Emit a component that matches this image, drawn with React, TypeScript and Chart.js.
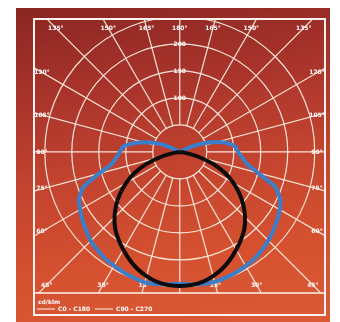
import React, { useEffect, useRef } from 'react';
import { Chart, registerables } from 'chart.js';

Chart.register(...registerables);

// ---- data (cd/klm, angle measured from nadir) ----
const blueAngles = [0, 5, 10, 15, 20, 25, 30, 35, 40, 45, 50, 55, 60, 65, 70, 75, 80, 85, 90, 95, 100, 105, 110, 115, 120];
const blueC0 = [244, 246, 248, 249, 248, 246, 244, 241, 237, 232, 226, 220, 214, 205, 188, 150, 126, 116, 108, 104, 92, 72, 47, 22, 0];
const blueC180 = [244, 246, 248, 250, 248, 246, 243, 241, 237, 233, 226, 220, 213, 206, 190, 155, 128, 118, 111, 106, 90, 70, 48, 24, 0];

const blackAngles = [0, 5, 10, 15, 20, 25, 30, 35, 40, 45, 50, 55, 60, 65, 70, 75, 80, 85];
const blackC90 = [248, 247, 244, 238, 230, 220, 209, 198, 186, 171, 154, 135, 115, 93, 67, 38, 12, 0];
const blackC270 = [248, 247, 244, 238, 230, 220, 209, 198, 186, 171, 154, 135, 115, 93, 67, 38, 12, 0];

const ringValues = [50, 100, 150, 200, 250];
const ringTickLabels = ['', '100', '150', '200', ''];
const spokeAngles = [0, 15, 30, 45, 60, 75, 90, 105, 120, 135, 150, 165, 180, 195, 210, 225, 240, 255, 270, 285, 300, 315, 330, 345];
const seriesLabels = ['C0 - C180', 'C90 - C270'];
const unitLabel = 'cd/klm';

function toXY(angles: number[], right: number[], left: number[]) {
  const pts: { x: number; y: number }[] = [];
  for (let i = angles.length - 1; i >= 0; i--) {
    const a = (angles[i] * Math.PI) / 180;
    pts.push({ x: -left[i] * Math.sin(a), y: -left[i] * Math.cos(a) });
  }
  for (let i = 1; i < angles.length; i++) {
    const a = (angles[i] * Math.PI) / 180;
    pts.push({ x: right[i] * Math.sin(a), y: -right[i] * Math.cos(a) });
  }
  return pts;
}

const gridColor = 'rgba(250,238,224,0.95)';
const textColor = '#ffffff';
const fontStr = 'bold 6px "DejaVu Sans", sans-serif';

const polarGrid = {
  id: 'polarGrid',
  beforeDatasetsDraw(chart: any) {
    const { ctx, chartArea: ca, scales } = chart;
    const xs = scales.x;
    const ys = scales.y;
    const cx = xs.getPixelForValue(0);
    const cy = ys.getPixelForValue(0);
    const k = xs.getPixelForValue(1) - cx;
    ctx.save();
    ctx.beginPath();
    ctx.rect(ca.left, ca.top, ca.right - ca.left, ca.bottom - ca.top);
    ctx.clip();
    ctx.strokeStyle = gridColor;
    ctx.lineWidth = 1.2;
    ringValues.forEach((v) => {
      ctx.beginPath();
      ctx.arc(cx, cy, v * k, 0, Math.PI * 2);
      ctx.stroke();
    });
    const r0 = ringValues[0] * k;
    const r1 = 1000 * k;
    spokeAngles.forEach((a) => {
      const t = (a * Math.PI) / 180;
      const dx = Math.sin(t);
      const dy = Math.cos(t);
      ctx.beginPath();
      ctx.moveTo(cx + dx * r0, cy + dy * r0);
      ctx.lineTo(cx + dx * r1, cy + dy * r1);
      ctx.stroke();
    });
    ctx.restore();

    // angle labels along the frame
    ctx.save();
    ctx.font = fontStr;
    ctx.fillStyle = textColor;
    ctx.textAlign = 'center';
    ctx.textBaseline = 'middle';
    const L = ca.left + 8, R = ca.right - 8, T = ca.top + 9, B = ca.bottom - 8;
    spokeAngles.forEach((a) => {
      if (a === 0) return;
      const t = (a * Math.PI) / 180;
      const dx = Math.sin(t);
      const dy = Math.cos(t);
      let s = Infinity;
      if (dx > 1e-6) s = Math.min(s, (R - cx) / dx);
      if (dx < -1e-6) s = Math.min(s, (L - cx) / dx);
      if (dy > 1e-6) s = Math.min(s, (B - cy) / dy);
      if (dy < -1e-6) s = Math.min(s, (T - cy) / dy);
      const lab = (a <= 180 ? a : 360 - a) + '°';
      ctx.fillText(lab, cx + dx * s, cy + dy * s);
    });
    ringValues.forEach((v, i) => {
      if (!ringTickLabels[i]) return;
      ctx.fillText(ringTickLabels[i], cx, cy - v * k);
    });
    ctx.restore();
  },
  afterDraw(chart: any) {
    const { ctx, chartArea: ca } = chart;
    ctx.save();
    ctx.strokeStyle = '#fbf4ee';
    ctx.lineWidth = 2;
    const bottom = ca.bottom + 22;
    ctx.strokeRect(ca.left, ca.top, ca.right - ca.left, bottom - ca.top);
    ctx.lineWidth = 1.5;
    ctx.beginPath();
    ctx.moveTo(ca.left, ca.bottom);
    ctx.lineTo(ca.right, ca.bottom);
    ctx.stroke();
    // legend
    ctx.font = fontStr;
    ctx.fillStyle = textColor;
    ctx.textAlign = 'left';
    ctx.textBaseline = 'middle';
    ctx.fillText(unitLabel, ca.left + 4, ca.bottom + 9);
    const ly = ca.bottom + 16;
    let lx = ca.left + 3;
    ctx.lineWidth = 1;
    seriesLabels.forEach((s) => {
      ctx.beginPath();
      ctx.moveTo(lx, ly);
      ctx.lineTo(lx + 18, ly);
      ctx.stroke();
      ctx.fillText(s, lx + 21, ly);
      lx += 58;
    });
    ctx.restore();
  },
};

export default function App() {
  const ref = useRef<HTMLCanvasElement>(null);
  useEffect(() => {
    if (!ref.current) return;
    const chart = new Chart(ref.current, {
      type: 'scatter',
      data: {
        datasets: [
          {
            label: seriesLabels[0],
            data: toXY(blueAngles, blueC0, blueC180),
            showLine: true,
            borderColor: '#3b7fcb',
            borderWidth: 4,
            pointRadius: 0,
            tension: 0.15,
            order: 1,
          },
          {
            label: seriesLabels[1],
            data: toXY(blackAngles, blackC90, blackC270),
            showLine: true,
            borderColor: '#0d0b0b',
            borderWidth: 4,
            pointRadius: 0,
            tension: 0.4,
            order: 0,
          },
        ],
      },
      options: {
        animation: false,
        responsive: false,
        devicePixelRatio: 1,
        layout: { padding: { left: 34, top: 19, right: 15, bottom: 29 } },
        scales: {
          x: { type: 'linear', min: -270, max: 269, display: false },
          y: { type: 'linear', min: -261, max: 246, display: false },
        },
        plugins: { legend: { display: false }, tooltip: { enabled: false } },
      },
      plugins: [polarGrid],
    });
    return () => chart.destroy();
  }, []);
  return (
    <div style={{ position: 'fixed', left: 0, top: 0, width: 340, height: 322, background: '#fff', overflow: 'hidden' }}>
      <div
        style={{
          position: 'absolute',
          left: 16,
          top: 8,
          width: 314,
          height: 314,
          background: 'linear-gradient(172deg, #8a2622 0%, #a8332b 25%, #c2432f 50%, #d4502f 75%, #dc5a36 100%)',
        }}
      />
      <canvas ref={ref} width={340} height={322} style={{ position: 'absolute', left: 0, top: 0 }} />
    </div>
  );
}
